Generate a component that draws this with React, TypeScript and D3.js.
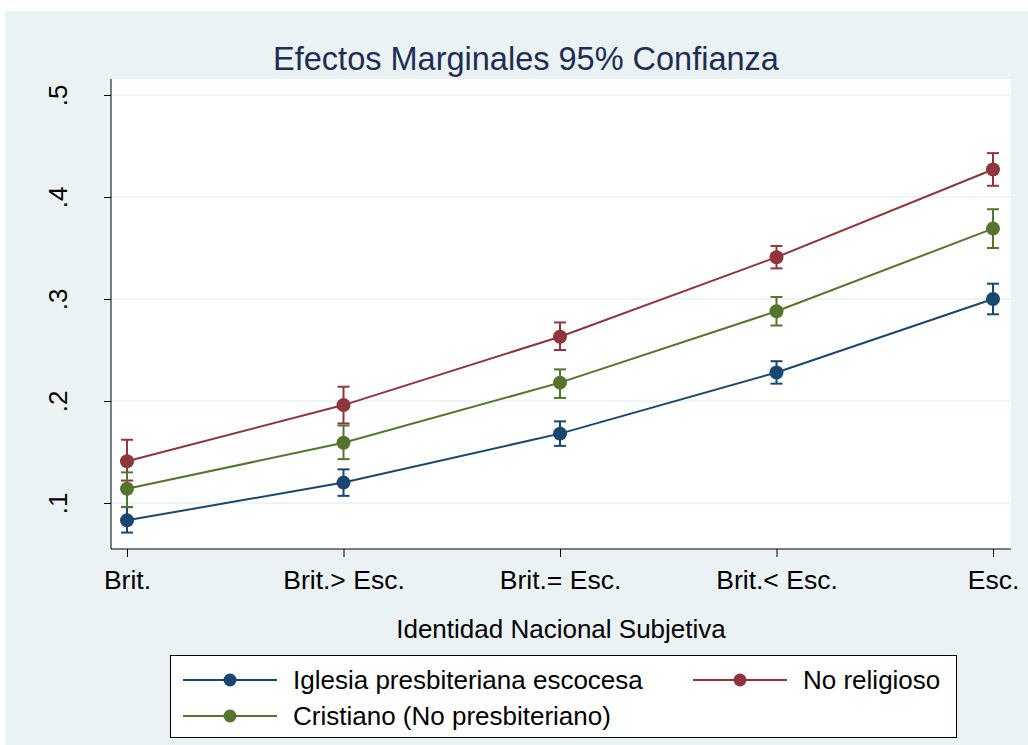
import React, { useEffect, useRef } from 'react';
import * as d3 from 'd3';

const categories = ['Brit.', 'Brit.> Esc.', 'Brit.= Esc.', 'Brit.< Esc.', 'Esc.'];
const yTicks = [0.1, 0.2, 0.3, 0.4, 0.5];

// point estimates and 95% bounds
const presbValues = [0.083, 0.12, 0.168, 0.228, 0.3];
const presbLow = [0.071, 0.107, 0.156, 0.217, 0.285];
const presbHigh = [0.096, 0.133, 0.18, 0.239, 0.315];

const noRelValues = [0.141, 0.196, 0.263, 0.341, 0.427];
const noRelLow = [0.122, 0.178, 0.25, 0.33, 0.411];
const noRelHigh = [0.162, 0.214, 0.277, 0.352, 0.443];

const cristValues = [0.114, 0.159, 0.218, 0.288, 0.369];
const cristLow = [0.096, 0.143, 0.203, 0.274, 0.35];
const cristHigh = [0.13, 0.176, 0.231, 0.302, 0.388];

const seriesNames = ['Iglesia presbiteriana escocesa', 'No religioso', 'Cristiano (No presbiteriano)'];
const colors = ['#1a476f', '#90353b', '#55752f'];

const App = () => {
  const ref = useRef<SVGSVGElement>(null);

  useEffect(() => {
    const svg = d3.select(ref.current);
    svg.selectAll('*').remove();
    const font = 'Liberation Sans, Arial, sans-serif';

    // background
    svg.append('rect').attr('x', 5).attr('y', 11).attr('width', 1023).attr('height', 734).attr('fill', '#eaf2f3');

    const plot = { left: 111, right: 1011, top: 79, bottom: 549 };
    svg.append('rect')
      .attr('x', plot.left).attr('y', plot.top)
      .attr('width', plot.right - plot.left).attr('height', plot.bottom - plot.top)
      .attr('fill', '#fff');

    const x = d3.scaleLinear().domain([0, categories.length - 1]).range([127, 993]);
    const y = d3.scaleLinear().domain([0.1, 0.5]).range([503, 95]);

    // grid
    svg.selectAll('.grid').data(yTicks).enter().append('line')
      .attr('x1', plot.left).attr('x2', plot.right)
      .attr('y1', d => y(d)).attr('y2', d => y(d))
      .attr('stroke', '#eaf2f3').attr('stroke-width', 1.5);

    // axes
    const yAxis = svg.append('g').attr('transform', `translate(${plot.left},0)`)
      .call(d3.axisLeft(y).tickValues(yTicks).tickSize(7).tickPadding(0).tickFormat(d => d3.format('.1f')(+d).replace(/^0/, '')));
    yAxis.select('.domain').attr('d', `M0,${plot.top}V${plot.bottom}`).attr('stroke', '#000');
    yAxis.selectAll('.tick line').attr('stroke', '#000');
    yAxis.selectAll('.tick text')
      .attr('x', 0).attr('y', 0).attr('dy', null)
      .attr('transform', 'translate(-44,0) rotate(-90)')
      .attr('text-anchor', 'middle')
      .style('font-family', font).style('font-size', '26px').attr('fill', '#000');

    const xAxis = svg.append('g').attr('transform', `translate(0,${plot.bottom})`)
      .call(d3.axisBottom(x).tickValues(d3.range(categories.length)).tickSize(8).tickPadding(8).tickFormat((d, i) => categories[i]));
    xAxis.select('.domain').attr('d', `M${plot.left},0H${plot.right}`).attr('stroke', '#000');
    xAxis.selectAll('.tick line').attr('stroke', '#000');
    xAxis.selectAll('.tick text')
      .attr('y', 40).attr('dy', null)
      .style('font-family', font).style('font-size', '26.5px').attr('fill', '#000');

    // titles
    svg.append('text').attr('x', 526).attr('y', 70).attr('text-anchor', 'middle')
      .style('font-family', font).style('font-size', '32.5px').attr('fill', '#1e2d54')
      .text('Efectos Marginales 95% Confianza');
    svg.append('text').attr('x', 561).attr('y', 638).attr('text-anchor', 'middle')
      .style('font-family', font).style('font-size', '26px').attr('fill', '#000')
      .text('Identidad Nacional Subjetiva');

    const series = [
      { vals: presbValues, lo: presbLow, hi: presbHigh },
      { vals: noRelValues, lo: noRelLow, hi: noRelHigh },
      { vals: cristValues, lo: cristLow, hi: cristHigh },
    ];

    const line = d3.line<number>().x((d, i) => x(i)).y(d => y(d));

    series.forEach((s, k) => {
      const g = svg.append('g');
      const c = colors[k];
      // error bars
      s.vals.forEach((v, i) => {
        const cx = x(i);
        g.append('line').attr('x1', cx).attr('x2', cx).attr('y1', y(s.lo[i])).attr('y2', y(s.hi[i]))
          .attr('stroke', c).attr('stroke-width', 2);
        [s.lo[i], s.hi[i]].forEach(b => {
          g.append('line').attr('x1', cx - 6).attr('x2', cx + 6).attr('y1', y(b)).attr('y2', y(b))
            .attr('stroke', c).attr('stroke-width', 2);
        });
      });
      g.append('path').attr('d', line(s.vals)).attr('fill', 'none').attr('stroke', c).attr('stroke-width', 2);
      g.selectAll('circle').data(s.vals).enter().append('circle')
        .attr('cx', (d, i) => x(i)).attr('cy', d => y(d)).attr('r', 7).attr('fill', c);
    });

    // legend
    svg.append('rect').attr('x', 170.5).attr('y', 655.5).attr('width', 786).attr('height', 82)
      .attr('fill', '#fff').attr('stroke', '#000').attr('stroke-width', 1);
    const legendPos = [
      { lx: 183, ly: 680 },
      { lx: 693, ly: 680 },
      { lx: 183, ly: 716 },
    ];
    seriesNames.forEach((name, k) => {
      const p = legendPos[k];
      const g = svg.append('g');
      g.append('line').attr('x1', p.lx).attr('x2', p.lx + 94).attr('y1', p.ly).attr('y2', p.ly)
        .attr('stroke', colors[k]).attr('stroke-width', 2);
      g.append('circle').attr('cx', p.lx + 47).attr('cy', p.ly).attr('r', 6.5).attr('fill', colors[k]);
      g.append('text').attr('x', p.lx + 110).attr('y', p.ly + 9)
        .style('font-family', font).style('font-size', '26px').attr('fill', '#000')
        .text(name);
    });
  }, []);

  return (
    <svg ref={ref} width={1028} height={745} style={{ position: 'absolute', left: 0, top: 0, background: '#fff' }} />
  );
};

export default App;
